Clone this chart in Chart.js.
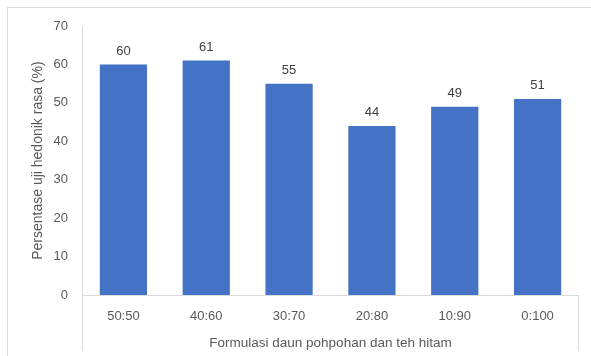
<!DOCTYPE html>
<html>
<head>
<meta charset="utf-8">
<script src="https://cdn.jsdelivr.net/npm/chart.js@4.4.1/dist/chart.umd.min.js"></script>
<style>
  html, body { margin: 0; padding: 0; background: #fff; }
  #wrap { position: relative; width: 591px; height: 356px; }
  #frame { position: absolute; left: 7px; top: 7px; right: -2px; bottom: -2px;
           border-top: 1px solid #d9d9d9; border-left: 1px solid #d9d9d9; }
  canvas { position: absolute; left: 0; top: 0; }
</style>
</head>
<body>
<div id="wrap">
  <div id="frame"></div>
  <canvas id="chart" width="591" height="356"></canvas>
</div>
<script>
// formulasi (daun pohpohan : teh hitam) dan persentase uji hedonik rasa
const categories = ["50:50", "40:60", "30:70", "20:80", "10:90", "0:100"];
const values = [60, 61, 55, 44, 49, 51];
const yTicks = [0, 10, 20, 30, 40, 50, 60, 70];

const FONT = "'Liberation Sans', Arial, sans-serif";
const TEXT = "#595959";
const LINE = "#d9d9d9";

// angka di atas setiap batang
const barLabels = {
  id: "barLabels",
  afterDatasetsDraw(chart) {
    const ctx = chart.ctx;
    const meta = chart.getDatasetMeta(0);
    ctx.save();
    ctx.font = "13px " + FONT;
    ctx.fillStyle = "#404040";
    ctx.textAlign = "center";
    ctx.textBaseline = "bottom";
    meta.data.forEach((bar, i) => {
      ctx.fillText(String(values[i]), bar.x, bar.y - 7);
    });
    ctx.restore();
  }
};

// garis sumbu: tegak di kiri sampai bawah, garis dasar, dan penutup kanan
const axisLines = {
  id: "axisLines",
  afterDraw(chart) {
    const { ctx, chartArea } = chart;
    const h = chart.height;
    ctx.save();
    ctx.strokeStyle = LINE;
    ctx.lineWidth = 1;
    ctx.beginPath();
    ctx.moveTo(Math.round(chartArea.left) + 0.5, chartArea.top);
    ctx.lineTo(Math.round(chartArea.left) + 0.5, h - 5);
    ctx.moveTo(chartArea.left, Math.round(chartArea.bottom) + 0.5);
    ctx.lineTo(chartArea.right, Math.round(chartArea.bottom) + 0.5);
    ctx.moveTo(Math.round(chartArea.right) - 0.5, chartArea.bottom);
    ctx.lineTo(Math.round(chartArea.right) - 0.5, h - 5);
    ctx.stroke();
    ctx.restore();
  }
};

new Chart(document.getElementById("chart"), {
  type: "bar",
  data: {
    labels: categories,
    datasets: [{
      data: values,
      backgroundColor: "#4472c4",
      borderWidth: 0,
      barPercentage: 0.57,
      categoryPercentage: 1.0
    }]
  },
  options: {
    responsive: false,
    animation: false,
    layout: { padding: { top: 26, right: 12, bottom: 5, left: 0 } },
    plugins: { legend: { display: false }, tooltip: { enabled: false } },
    scales: {
      x: {
        grid: { display: false },
        border: { display: false },
        ticks: { color: TEXT, font: { family: FONT, size: 13 }, padding: 5 },
        title: {
          display: true,
          text: "Formulasi daun pohpohan dan teh hitam",
          color: TEXT,
          font: { family: FONT, size: 13.5 },
          padding: { top: 6, bottom: 0 }
        }
      },
      y: {
        min: 0,
        max: 70,
        afterBuildTicks(scale) { scale.ticks = yTicks.map(v => ({ value: v })); },
        afterFit(scale) { scale.width = 82; },
        grid: { display: false, drawTicks: false },
        border: { display: false },
        ticks: { color: TEXT, font: { family: FONT, size: 13 }, padding: 14 },
        title: {
          display: true,
          text: "Persentase uji hedonik rasa (%)",
          color: TEXT,
          font: { family: FONT, size: 14 },
          padding: { top: 30, bottom: 0 }
        }
      }
    }
  },
  plugins: [barLabels, axisLines]
});
</script>
</body>
</html>
